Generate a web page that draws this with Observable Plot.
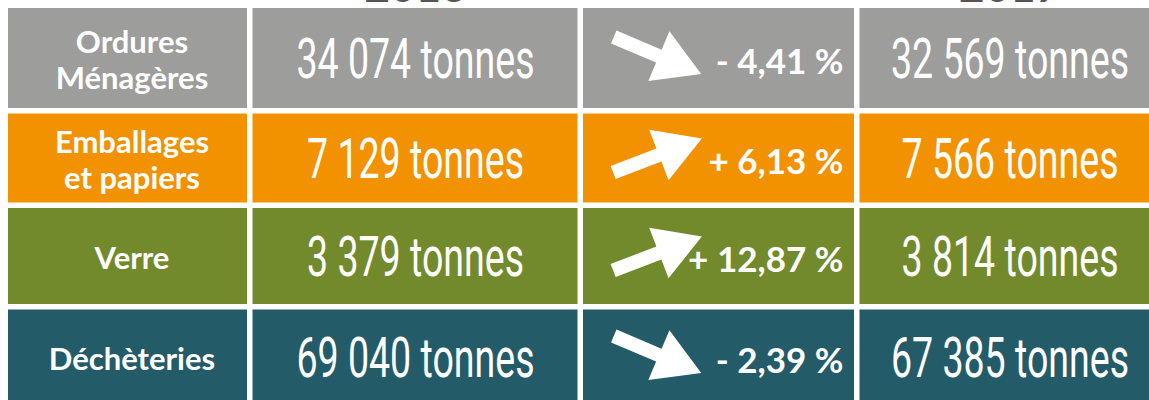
<!DOCTYPE html>
<html>
<head>
<meta charset="utf-8">
<script src="https://cdn.jsdelivr.net/npm/d3@7"></script>
<script src="https://cdn.jsdelivr.net/npm/@observablehq/plot@0.6"></script>
<style>
  html, body { margin: 0; padding: 0; background: #fff; overflow: hidden; }
  #chart svg { display: block; }
</style>
</head>
<body>
<div id="chart"></div>
<script>
// ---- data ----
const categories = ["Ordures\nMénagères", "Emballages\net papiers", "Verre", "Déchèteries"];
const tonnes2016 = [34074, 7129, 3379, 69040];
const tonnes2017 = [32569, 7566, 3814, 67385];
const evolution = [-4.41, 6.13, 12.87, -2.39];
const years = ["2016", "2017"];
const rowColors = ["#9d9d9c", "#f39200", "#728a2c", "#245b69"];

// ---- layout (table grid, in layout units) ----
const W = 1149, H = 400;
const colWidths = [239, 325, 271, 300];
const rowHeights = [100, 89, 96, 95];
const gap = 5.5, originX = 8, originY = 8;

function edges(sizes, origin) {
  const out = []; let p = origin;
  for (const s of sizes) { out.push([p, p + s]); p += s + gap; }
  return out;
}
const colEdges = edges(colWidths, originX);
const rowEdges = edges(rowHeights, originY);

const fr = d3.formatLocale({decimal: ",", thousands: " ", grouping: [3]});
const fInt = fr.format(",d");
const fPct = fr.format(".2f");

const rows = categories.map((c, i) => ({
  label: c,
  v2016: tonnes2016[i],
  v2017: tonnes2017[i],
  evo: evolution[i],
  fill: rowColors[i],
  y1: rowEdges[i][0], y2: rowEdges[i][1],
  yc: (rowEdges[i][0] + rowEdges[i][1]) / 2
}));
const cells = rows.flatMap(r => colEdges.map(([x1, x2]) => ({x1, x2, y1: r.y1, y2: r.y2, fill: r.fill})));
const cx = colEdges.map(([a, b]) => (a + b) / 2);
const headers = years.map((y, i) => ({text: y, x: cx[i === 0 ? 1 : 3]}));

// filled arrow shape for Plot.vector
const fatArrow = {
  draw(ctx, l) {
    const w = 7, hw = 27, hl = 46;
    ctx.moveTo(-w, 0);
    ctx.lineTo(-w, -l + hl);
    ctx.lineTo(-hw, -l + hl);
    ctx.lineTo(0, -l);
    ctx.lineTo(hw, -l + hl);
    ctx.lineTo(w, -l + hl);
    ctx.lineTo(w, 0);
    ctx.closePath();
  }
};

const numFont = "Roboto, 'Liberation Sans', sans-serif";

const chart = Plot.plot({
  width: W, height: H,
  margin: 0,
  x: {domain: [0, W], range: [0, W], axis: null},
  y: {domain: [0, H], range: [0, H], axis: null},
  marks: [
    Plot.rect(cells, {x1: "x1", x2: "x2", y1: "y1", y2: "y2", fill: "fill"}),
    Plot.text(headers, {x: "x", y: 0, text: "text", lineAnchor: "bottom", dy: 1,
      fill: "#555", fontSize: 44, fontWeight: 700, fontFamily: "Lato, sans-serif"}),
    Plot.text(rows, {x: cx[0] + 4, y: "yc", text: "label", fill: "white",
      fontSize: 31, fontWeight: 700, fontFamily: "Lato, sans-serif", lineHeight: 1.15, dy: 1}),
    Plot.text(rows, {x: cx[1], y: "yc", text: d => fInt(d.v2016) + " tonnes", fill: "white",
      fontSize: 56, fontFamily: numFont, dy: 2, className: "num"}),
    Plot.text(rows, {x: cx[3], y: "yc", text: d => fInt(d.v2017) + " tonnes", fill: "white",
      fontSize: 56, fontFamily: numFont, dy: 2, className: "num"}),
    Plot.vector(rows, {x: colEdges[2][0] + 74, y: "yc", dy: -3, length: 95,
      rotate: d => d.evo >= 0 ? 69 : 113, anchor: "middle", shape: fatArrow,
      fill: "white", stroke: "none"}),
    Plot.text(rows, {x: colEdges[2][1] - 11, y: "yc", textAnchor: "end", dy: 4,
      text: d => (d.evo >= 0 ? "+ " : "- ") + fPct(Math.abs(d.evo)) + " %",
      fill: "white", fontSize: 35, fontWeight: 700, fontFamily: "Lato, sans-serif"})
  ]
});
document.getElementById("chart").append(chart);
// condense the tonnage figures horizontally (tall, narrow numerals)
d3.select(chart).selectAll("g.num text").each(function() {
  const len = this.getComputedTextLength();
  this.setAttribute("textLength", (len * 0.67).toFixed(1));
  this.setAttribute("lengthAdjust", "spacingAndGlyphs");
});
</script>
</body>
</html>
